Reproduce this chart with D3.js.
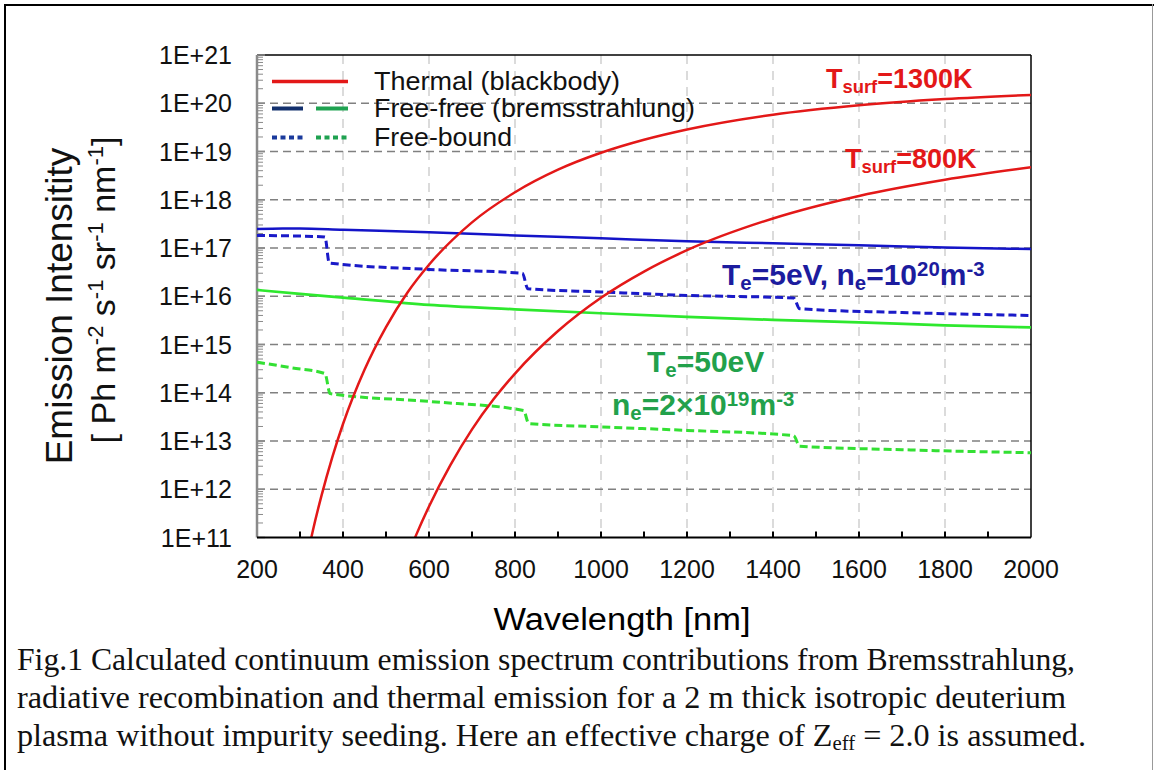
<!DOCTYPE html>
<html>
<head>
<meta charset="utf-8">
<script src="https://cdn.jsdelivr.net/npm/d3@7"></script>
<style>
  body { margin: 0; background: #fff; }
  text { font-family: "Liberation Sans", Arial, sans-serif; }
  .cap { font-family: "Liberation Serif", "Times New Roman", serif; }
</style>
</head>
<body>
<svg id="chart" width="1154" height="770"></svg>
<script>
// values: [wavelength nm, intensity Ph m-2 s-1 sr-1 nm-1]
const thermal1300 = [[310,2.0e10],[330,1.4e11],[350,7.4e11],[375,4.6e12],[400,2.25e13],[450,3.0e14],[500,2.3e15],[550,1.2e16],[600,4.5e16],[700,3.4e17],[800,1.43e18],[900,4.2e18],[1000,9.4e18],[1100,1.75e19],[1200,2.86e19],[1400,5.8e19],[1600,9.1e19],[1800,1.22e20],[2000,1.49e20]];
const thermal800 = [[555,5.3e10],[570,1.12e11],[600,4.4e11],[650,3.2e12],[700,1.74e13],[750,7.3e13],[800,2.5e14],[900,1.9e15],[1000,9.3e15],[1100,3.25e16],[1200,9.0e16],[1400,4.1e17],[1600,1.2e18],[1800,2.6e18],[2000,4.7e18]];
const freefreeBlue = [[200,2.48e17],[260,2.55e17],[300,2.53e17],[400,2.38e17],[600,2.13e17],[800,1.82e17],[1000,1.59e17],[1200,1.38e17],[1400,1.25e17],[1600,1.14e17],[1800,1.03e17],[2000,9.5e16]];
const freefreeGreen = [[200,1.35e16],[300,1.12e16],[400,9.4e15],[600,6.6e15],[800,5.37e15],[1000,4.44e15],[1200,3.75e15],[1400,3.24e15],[1600,2.88e15],[1800,2.5e15],[2000,2.27e15]];
const freeboundBlue = [[200,1.82e17],[358,1.70e17],[368,4.9e16],[600,3.6e16],[817,3.0e16],[830,1.43e16],[1000,1.23e16],[1200,1.04e16],[1448,9.2e15],[1462,5.5e15],[1700,4.6e15],[2000,4.0e15]];
const freeboundGreen = [[200,4.3e14],[280,3.3e14],[358,2.5e14],[370,9.6e13],[600,6.6e13],[820,4.3e13],[832,2.3e13],[1000,1.96e13],[1200,1.66e13],[1448,1.29e13],[1462,7.8e12],[1700,6.6e12],[2000,5.7e12]];

const xTicks = [200,400,600,800,1000,1200,1400,1600,1800,2000];
const yDecades = [1e11,1e12,1e13,1e14,1e15,1e16,1e17,1e18,1e19,1e20,1e21];
const yTickLabels = ["1E+11","1E+12","1E+13","1E+14","1E+15","1E+16","1E+17","1E+18","1E+19","1E+20","1E+21"];
const legendLabels = ["Thermal (blackbody)","Free-free (bremsstrahlung)","Free-bound"];

const svg = d3.select("#chart");
const pLeft = 257, pRight = 1031, pTop = 55, pBottom = 537.5;

const x = d3.scaleLinear().domain([200, 2000]).range([pLeft, pRight]);
const y = d3.scaleLog().domain([1e11, 1e21]).range([pBottom, pTop]);

// outer frame of the figure
svg.append("line").attr("x1",5).attr("x2",5).attr("y1",4).attr("y2",770).attr("stroke","#000").attr("stroke-width",2);
svg.append("line").attr("x1",4).attr("x2",1154).attr("y1",5).attr("y2",5).attr("stroke","#000").attr("stroke-width",2);
svg.append("line").attr("x1",1152.5).attr("x2",1152.5).attr("y1",4).attr("y2",770).attr("stroke","#999").attr("stroke-width",1);

// grid
svg.append("g").selectAll("line")
  .data(xTicks.slice(1, -1))
  .join("line")
  .attr("x1", d => x(d)).attr("x2", d => x(d))
  .attr("y1", pTop).attr("y2", pBottom)
  .attr("stroke", "#c8c8c8").attr("stroke-width", 1.3).attr("stroke-dasharray", "9,7");

svg.append("g").selectAll("line")
  .data(yDecades.slice(1, -1))
  .join("line")
  .attr("x1", pLeft).attr("x2", pRight)
  .attr("y1", d => y(d)).attr("y2", d => y(d))
  .attr("stroke", "#808080").attr("stroke-width", 1.6).attr("stroke-dasharray", "8,5");

// frame top / right
svg.append("line").attr("x1",pLeft).attr("x2",pRight).attr("y1",pTop).attr("y2",pTop).attr("stroke","#000").attr("stroke-width",1.5);
svg.append("line").attr("x1",pRight).attr("x2",pRight).attr("y1",pTop).attr("y2",pBottom).attr("stroke","#000").attr("stroke-width",1.5);

// y axis (grey, minor ticks inside)
const minor = y.ticks(90).filter(d => !yDecades.includes(d));
svg.append("g").selectAll("line")
  .data(minor)
  .join("line")
  .attr("x1", pLeft).attr("x2", pLeft + 6)
  .attr("y1", d => y(d)).attr("y2", d => y(d))
  .attr("stroke", "#8a8a8a").attr("stroke-width", 1);
svg.append("g").selectAll("line")
  .data(yDecades)
  .join("line")
  .attr("x1", pLeft).attr("x2", pLeft + 8)
  .attr("y1", d => y(d)).attr("y2", d => y(d))
  .attr("stroke", "#8a8a8a").attr("stroke-width", 1.5);
svg.append("line").attr("x1",pLeft).attr("x2",pLeft).attr("y1",pTop).attr("y2",pBottom).attr("stroke","#8a8a8a").attr("stroke-width",2.5);

svg.append("g").selectAll("text")
  .data(yDecades)
  .join("text")
  .attr("x", 232).attr("y", d => y(d)).attr("dy", "0.36em")
  .attr("text-anchor", "end").attr("font-size", 25).attr("fill", "#111")
  .text((d, i) => yTickLabels[i]);

// clip for curves
svg.append("clipPath").attr("id","plot").append("rect")
  .attr("x", pLeft).attr("y", pTop).attr("width", pRight - pLeft).attr("height", pBottom - pTop);

const line = d3.line().x(d => x(d[0])).y(d => y(d[1])).curve(d3.curveMonotoneX);
const curves = svg.append("g").attr("clip-path", "url(#plot)");

const series = [
  { data: freeboundGreen, color: "#33e033", dash: "8,4", w: 3 },
  { data: freefreeGreen, color: "#2ee82e", dash: null, w: 2.7 },
  { data: freeboundBlue, color: "#1a1ac8", dash: "8,4", w: 3 },
  { data: freefreeBlue, color: "#1414c8", dash: null, w: 2.5 },
  { data: thermal1300, color: "#e31818", dash: null, w: 2.5 },
  { data: thermal800, color: "#e31818", dash: null, w: 2.5 }
];
curves.selectAll("path")
  .data(series)
  .join("path")
  .attr("d", d => line(d.data))
  .attr("fill", "none")
  .attr("stroke", d => d.color)
  .attr("stroke-width", d => d.w)
  .attr("stroke-dasharray", d => d.dash);

// x axis
const xMinor = d3.range(300, 2000, 100);
svg.append("g").selectAll("line")
  .data(xMinor)
  .join("line")
  .attr("x1", d => x(d)).attr("x2", d => x(d))
  .attr("y1", pBottom).attr("y2", pBottom - 6)
  .attr("stroke", "#000").attr("stroke-width", 2);
svg.append("line").attr("x1",pLeft).attr("x2",pRight).attr("y1",pBottom).attr("y2",pBottom).attr("stroke","#000").attr("stroke-width",2);

svg.append("g").selectAll("text")
  .data(xTicks)
  .join("text")
  .attr("x", d => x(d)).attr("y", 578)
  .attr("text-anchor", "middle").attr("font-size", 25).attr("fill", "#111")
  .text(d => d);

// axis titles
svg.append("text").attr("x", 622).attr("y", 630).attr("text-anchor","middle")
  .attr("font-size", 31).attr("textLength", 257).attr("lengthAdjust","spacingAndGlyphs")
  .text("Wavelength [nm]");

svg.append("text").attr("transform","translate(72,306) rotate(-90)")
  .attr("text-anchor","middle").attr("font-size", 37).attr("fill","#111")
  .text("Emission Intensitity");

const yt2 = svg.append("text").attr("transform","translate(115,290) rotate(-90)")
  .attr("text-anchor","middle").attr("font-size", 34).attr("fill","#111");
[["[ Ph m",0],["-2",1],[" s",0],["-1",1],[" sr",0],["-1",1],[" nm",0],["-1",1],["]",0]].forEach(p => {
  yt2.append("tspan").attr("font-size", p[1] ? 22 : 34).attr("baseline-shift", p[1] ? "55%" : null).text(p[0]);
});

// legend
const legY = [81.5, 108.5, 137.5];
const lg = svg.append("g");
lg.append("line").attr("x1",272).attr("x2",348).attr("y1",legY[0]).attr("y2",legY[0]).attr("stroke","#e31818").attr("stroke-width",3.5);
lg.append("line").attr("x1",272).attr("x2",303).attr("y1",legY[1]).attr("y2",legY[1]).attr("stroke","#13306d").attr("stroke-width",4);
lg.append("line").attr("x1",316).attr("x2",348).attr("y1",legY[1]).attr("y2",legY[1]).attr("stroke","#1fa251").attr("stroke-width",4);
lg.append("line").attr("x1",272).attr("x2",303).attr("y1",legY[2]).attr("y2",legY[2]).attr("stroke","#1a3a9c").attr("stroke-width",4).attr("stroke-dasharray","5,3.5");
lg.append("line").attr("x1",316).attr("x2",348).attr("y1",legY[2]).attr("y2",legY[2]).attr("stroke","#1fa251").attr("stroke-width",4).attr("stroke-dasharray","5,3.5");
const legLen = [246, 321, 138];
lg.selectAll("text")
  .data(legendLabels)
  .join("text")
  .attr("x", 374).attr("y", (d, i) => legY[i] + 8.5)
  .attr("font-size", 25).attr("fill", "#111")
  .attr("textLength", (d, i) => legLen[i]).attr("lengthAdjust", "spacingAndGlyphs")
  .text(d => d);

// annotations
function richText(px, py, parts, color, size) {
  const t = svg.append("text").attr("x", px).attr("y", py)
    .attr("font-size", size).attr("font-weight", "bold").attr("fill", color);
  parts.forEach(p => {
    const s = t.append("tspan").text(p[0]);
    if (p[1] === "sub") s.attr("font-size", size * 0.68).attr("baseline-shift", "-25%");
    if (p[1] === "sup") s.attr("font-size", size * 0.68).attr("baseline-shift", "45%");
  });
  return t;
}
richText(826, 88, [["T"],["surf","sub"],["=1300K"]], "#e31818", 27);
richText(845, 168, [["T"],["surf","sub"],["=800K"]], "#e31818", 27);
richText(722, 285, [["T"],["e","sub"],["=5eV, n"],["e","sub"],["=10"],["20","sup"],["m"],["-3","sup"]], "#1c1c9e", 30);
richText(647, 372, [["T"],["e","sub"],["=50eV"]], "#22a14b", 30);
richText(612, 415, [["n"],["e","sub"],["=2\u00d710"],["19","sup"],["m"],["-3","sup"]], "#22a14b", 30);

// caption
const capLines = [
  "Fig.1 Calculated continuum emission spectrum contributions from Bremsstrahlung,",
  "radiative recombination and thermal emission for a 2 m thick isotropic deuterium"
];
const capLen = [1058, 1049];
svg.append("g").selectAll("text")
  .data(capLines)
  .join("text")
  .attr("class", "cap")
  .attr("x", 17).attr("y", (d, i) => 670 + i * 38)
  .attr("font-size", 31).attr("fill", "#111")
  .attr("textLength", (d, i) => capLen[i]).attr("lengthAdjust", "spacingAndGlyphs")
  .text(d => d);
const cap3 = svg.append("text").attr("class","cap").attr("x",17).attr("y",746).attr("font-size",31).attr("fill","#111")
  .attr("textLength", 1069).attr("lengthAdjust", "spacingAndGlyphs");
cap3.append("tspan").text("plasma without impurity seeding. Here an effective charge of Z");
cap3.append("tspan").attr("font-size",20).attr("baseline-shift","-20%").text("eff");
cap3.append("tspan").text(" = 2.0 is assumed.");
</script>
</body>
</html>
